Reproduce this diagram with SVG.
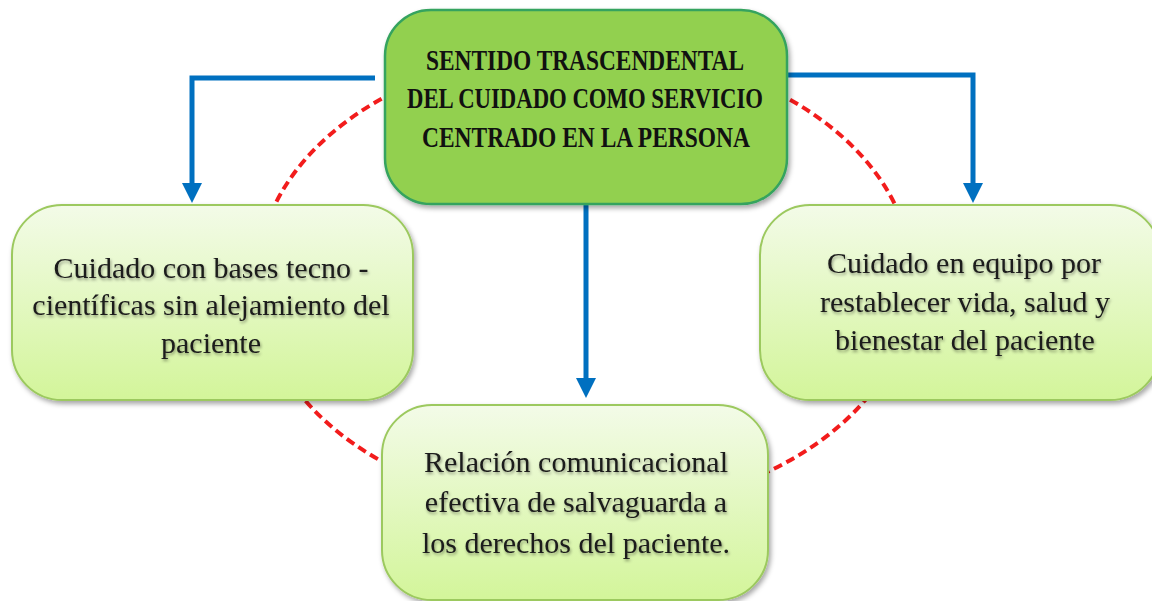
<svg xmlns="http://www.w3.org/2000/svg" width="1152" height="601" viewBox="0 0 1152 601">
  <defs>
    <style>
      .main { fill: #92D050; stroke: #35A35E; stroke-width: 2.5; }
      .sub { fill: url(#subGrad); stroke: #9CC95E; stroke-width: 2; }
      .conn { fill: none; stroke: #0070C0; stroke-width: 5; stroke-linejoin: miter; }
      .ring { fill: none; stroke: #F21C1C; stroke-width: 4; stroke-dasharray: 9 5; }
      .title { font-family: "Liberation Serif", "Times New Roman", serif; font-weight: bold; font-size: 30px; fill: #111; text-anchor: middle; }
      .label { font-family: "Liberation Serif", "Times New Roman", serif; font-size: 30px; fill: #1a1a1a; text-anchor: middle; }
    </style>
    <linearGradient id="subGrad" x1="0" y1="0" x2="0" y2="1">
      <stop offset="0" stop-color="#F3FBE8"/>
      <stop offset="1" stop-color="#D3F59A"/>
    </linearGradient>
    <filter id="boxShadow" x="-10%" y="-10%" width="125%" height="130%">
      <feDropShadow dx="2" dy="3" stdDeviation="2.5" flood-color="#000" flood-opacity="0.35"/>
    </filter>
    <filter id="textShadow" x="-5%" y="-20%" width="110%" height="150%">
      <feDropShadow dx="1" dy="2" stdDeviation="1.5" flood-color="#000" flood-opacity="0.4"/>
    </filter>
    <marker id="arrow" viewBox="0 0 20 20" refX="9" refY="10" markerWidth="20" markerHeight="20" markerUnits="userSpaceOnUse" orient="auto">
      <path d="M0,0 L20,10 L0,20 z" fill="#0070C0"/>
    </marker>
  </defs>

  <rect width="1152" height="601" fill="#FFFFFF"/>

  <g id="connectors">
    <ellipse class="ring" cx="585" cy="280" rx="328" ry="231"/>
    <path class="conn" d="M375,78 H192 V192" marker-end="url(#arrow)"/>
    <path class="conn" d="M785,75 H973 V192" marker-end="url(#arrow)"/>
    <path class="conn" d="M586,205 V387" marker-end="url(#arrow)"/>
  </g>

  <g id="node-center">
    <rect class="main" x="385" y="10" width="402" height="194" rx="46" ry="46" filter="url(#boxShadow)"/>
    <text class="title" x="585" y="70" textLength="318" lengthAdjust="spacingAndGlyphs">SENTIDO TRASCENDENTAL</text>
    <text class="title" x="585" y="108" textLength="356" lengthAdjust="spacingAndGlyphs">DEL CUIDADO COMO SERVICIO</text>
    <text class="title" x="586" y="147" textLength="328" lengthAdjust="spacingAndGlyphs">CENTRADO EN LA PERSONA</text>
  </g>

  <g id="node-left">
    <rect class="sub" x="12" y="205" width="401" height="195" rx="50" ry="50" filter="url(#boxShadow)"/>
    <g filter="url(#textShadow)">
      <text class="label" x="211" y="278">Cuidado con bases tecno -</text>
      <text class="label" x="211" y="315">científicas sin alejamiento del</text>
      <text class="label" x="211" y="353">paciente</text>
    </g>
  </g>

  <g id="node-right">
    <rect class="sub" x="760" y="205" width="400" height="195" rx="50" ry="50" filter="url(#boxShadow)"/>
    <g filter="url(#textShadow)">
      <text class="label" x="964" y="273">Cuidado en equipo por</text>
      <text class="label" x="965" y="312">restablecer vida, salud y</text>
      <text class="label" x="965" y="350">bienestar del paciente</text>
    </g>
  </g>

  <g id="node-bottom">
    <rect class="sub" x="382" y="405" width="386" height="195" rx="50" ry="50" filter="url(#boxShadow)"/>
    <g filter="url(#textShadow)">
      <text class="label" x="576" y="472">Relación comunicacional</text>
      <text class="label" x="576" y="512">efectiva de salvaguarda a</text>
      <text class="label" x="576" y="553">los derechos del paciente.</text>
    </g>
  </g>
</svg>
